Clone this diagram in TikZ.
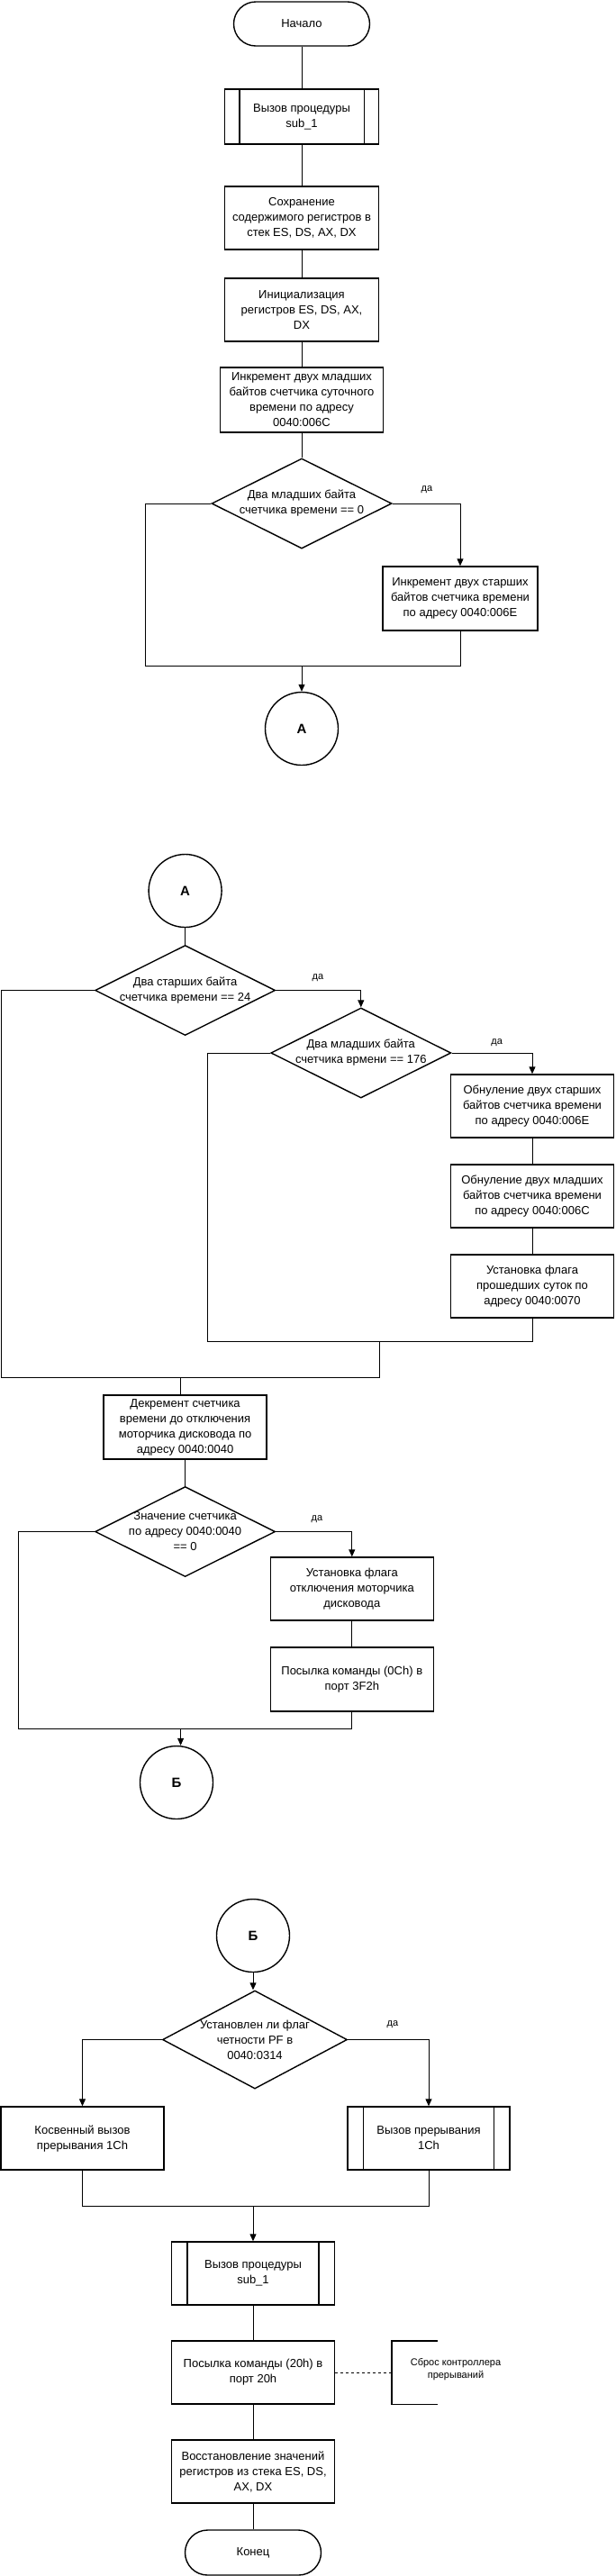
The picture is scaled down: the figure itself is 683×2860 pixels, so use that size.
\documentclass[tikz,border=0pt]{standalone}
\usepackage{fontspec}
\setmainfont{Liberation Sans}
\usetikzlibrary{arrows.meta,shapes.geometric}
\newcommand\fmain{\fontsize{13}{17}\selectfont}
\newcommand\fsmall{\fontsize{11}{14}\selectfont}
\newcommand\fcirc{\fontsize{15}{18}\selectfont\bfseries}
\tikzset{
  procbox/.style={draw, line width=1.4pt, rectangle, minimum width=181pt, minimum height=70pt, align=center, inner sep=1pt, font=\fmain},
  termnode/.style={draw, line width=1.4pt, rectangle, rounded corners=24.5pt, minimum width=151pt, minimum height=49pt, font=\fmain},
  circnode/.style={draw, line width=1.4pt, circle, minimum size=81pt, inner sep=0pt, font=\fcirc},
  decnode/.style={draw, line width=1.4pt, diamond, minimum width=200pt, minimum height=100pt, inner sep=0pt},
  dectext/.style={align=center, font=\fmain, inner sep=0pt},
  yeslabel/.style={font=\fsmall, inner sep=0pt},
  boxline/.style={line width=1.4pt},
  flow/.style={line width=1pt},
  witharrow/.style={line width=1pt, -{Triangle[length=8pt,width=7pt]}}
}
\begin{document}
\begin{tikzpicture}[x=1pt,y=-1pt]
\useasboundingbox (0,0) rectangle (683,2860);
% ---------- part 1 ----------
\node[termnode] (start) at (335,26.5) {Начало};
\node[procbox, minimum width=171pt, minimum height=61pt] (call1) at (335,129.5) {Вызов процедуры\\sub\_1};
\draw[boxline] ([xshift=17pt]call1.north west) -- ([xshift=17pt]call1.south west);
\draw[boxline] ([xshift=-17pt]call1.north east) -- ([xshift=-17pt]call1.south east);
\node[procbox, minimum width=171pt] (save) at (335,242) {Сохранение\\содержимого регистров в\\стек ES, DS, AX, DX};
\node[procbox, minimum width=171pt] (init) at (335,344) {Инициализация\\регистров ES, DS, AX,\\DX};
\node[procbox, minimum height=72pt] (inc1) at (335,444) {Инкремент двух младших\\байтов счетчика суточного\\времени по адресу\\0040:006C};
\node[decnode] (d1) at (335,559) {};
\node[dectext] (d1t) at (d1) {Два младших байта\\счетчика времени == 0};
\node[procbox, minimum width=172pt, minimum height=71pt] (inc2) at (511,664.5) {Инкремент двух старших\\байтов счетчика времени\\по адресу 0040:006E};
\node[circnode] (A1) at (335,809) {А};
\coordinate (j1L) at (161,739);

\draw[flow] (start) -- (call1);
\draw[flow] (call1) -- (save);
\draw[flow] (save) -- (init);
\draw[flow] (init) -- (inc1);
\draw[flow] (inc1) -- (d1);
\draw[witharrow] (d1.east) -| (inc2.north);
\node[yeslabel] (y1) at (474,544) {да};
\draw[flow] (d1.west) -| (j1L) -- (inc2.south |- j1L) -- (inc2.south);
\draw[witharrow] (d1.south |- j1L) -- (A1.north);

% ---------- part 2 ----------
\node[circnode] (A2) at (205.6,989) {А};
\node[decnode] (d2) at (205.6,1099.5) {};
\node[dectext] (d2t) at (d2) {Два старших байта\\счетчика времени == 24};
\node[decnode] (d3) at (400.8,1169) {};
\node[dectext] (d3t) at (d3) {Два младших байта\\счетчика врмени == 176};
\node[procbox] (z1) at (591,1228) {Обнуление двух старших\\байтов счетчика времени\\по адресу 0040:006E};
\node[procbox] (z2) at (591,1328) {Обнуление двух младших\\байтов счетчика времени\\по адресу 0040:006C};
\node[procbox] (flag1) at (591,1428) {Установка флага\\прошедших суток по\\адресу 0040:0070};
\node[procbox, minimum height=71pt] (dec) at (205.6,1584.5) {Декремент счетчика\\времени до отключения\\моторчика дисковода по\\адресу 0040:0040};
\coordinate (j2L) at (230.7,1489);
\coordinate (j2M) at (421.3,1489);
\coordinate (j3L) at (1,1529);
\coordinate (j3M) at (421.3,1529);
\coordinate (j3C) at (200.6,1529);

\draw[flow] (A2) -- (d2);
\draw[witharrow] (d2.east) -| (d3.north);
\node[yeslabel] (y2) at (353,1086) {да};
\draw[witharrow] (d3.east) -| (z1.north);
\node[yeslabel] (y3) at (551.7,1158) {да};
\draw[flow] (z1) -- (z2);
\draw[flow] (z2) -- (flag1);
\draw[flow] (d3.west) -| (j2L) -- (flag1.south |- j2L) -- (flag1.south);
\draw[flow] (d2.west) -| (j3L) -- (j3M) -- (j2M);
\draw[flow] (j3C) -- (j3C |- dec.north);

\node[decnode] (d4) at (205.6,1700.5) {};
\node[dectext] (d4t) at (d4) {Значение счетчика\\по адресу 0040:0040\\== 0};
\node[procbox] (flag2) at (390.8,1764) {Установка флага\\отключения моторчика\\дисковода};
\node[procbox, minimum height=71pt] (send1) at (390.8,1864.5) {Посылка команды (0Ch) в\\порт 3F2h};
\node[circnode] (B1) at (196,1979) {Б};
\coordinate (j4L) at (20.5,1919);
\coordinate (j4C) at (200.6,1919);

\draw[flow] (dec) -- (d4);
\draw[witharrow] (d4.east) -| (flag2.north);
\node[yeslabel] (y4) at (352,1687) {да};
\draw[flow] (flag2) -- (send1);
\draw[flow] (d4.west) -| (j4L) -- (send1.south |- j4L) -- (send1.south);
\draw[witharrow] (j4C) -- (j4C |- B1.north);

% ---------- part 3 ----------
\node[circnode] (B2) at (281,2149) {Б};
\node[decnode, minimum width=205pt, minimum height=109pt] (d5) at (283,2264.5) {};
\node[dectext] (d5t) at (d5) {Установлен ли флаг\\четности PF в\\0040:0314};
\node[procbox] (ind) at (91.5,2374) {Косвенный вызов\\прерывания 1Ch};
\node[procbox, minimum width=180pt] (intr) at (476,2374) {Вызов прерывания\\1Ch};
\draw[boxline] ([xshift=18pt]intr.north west) -- ([xshift=18pt]intr.south west);
\draw[boxline] ([xshift=-18pt]intr.north east) -- ([xshift=-18pt]intr.south east);
\node[procbox, minimum width=180.5pt] (call2) at (281,2524) {Вызов процедуры\\sub\_1};
\draw[boxline] ([xshift=18pt]call2.north west) -- ([xshift=18pt]call2.south west);
\draw[boxline] ([xshift=-18pt]call2.north east) -- ([xshift=-18pt]call2.south east);
\node[procbox, minimum width=180.5pt] (send2) at (281,2634) {Посылка команды (20h) в\\порт 20h};
\node[minimum width=51pt, minimum height=70pt, inner sep=0pt] (annbox) at (460.5,2634) {};
\node[font=\fsmall, align=center, inner sep=0pt] (anntext) at (506,2631) {Сброс контроллера\\прерываний};
\node[procbox, minimum width=180.5pt] (restore) at (281,2744) {Восстановление значений\\регистров из стека ES, DS,\\AX, DX};
\node[termnode, minimum height=50pt, rounded corners=25pt] (finish) at (281,2834) {Конец};
\coordinate (j5L) at (91.5,2449);

\draw[witharrow] (B2) -- (B2 |- d5.north);
\draw[witharrow] (d5.west) -| (ind.north);
\draw[witharrow] (d5.east) -| (intr.north);
\node[yeslabel] (y5) at (436,2248) {да};
\draw[flow] (ind.south) -- (j5L) -- (intr.south |- j5L) -- (intr.south);
\draw[witharrow] (call2.north |- j5L) -- (call2.north);
\draw[flow] (call2) -- (send2);
\draw[flow] (send2) -- (restore);
\draw[flow] (restore) -- (finish);
\draw[flow, dashed] (send2.east) -- (annbox.west);
\draw[boxline] (annbox.north east) -- (annbox.north west) -- (annbox.south west) -- (annbox.south east);
\end{tikzpicture}
\end{document}
